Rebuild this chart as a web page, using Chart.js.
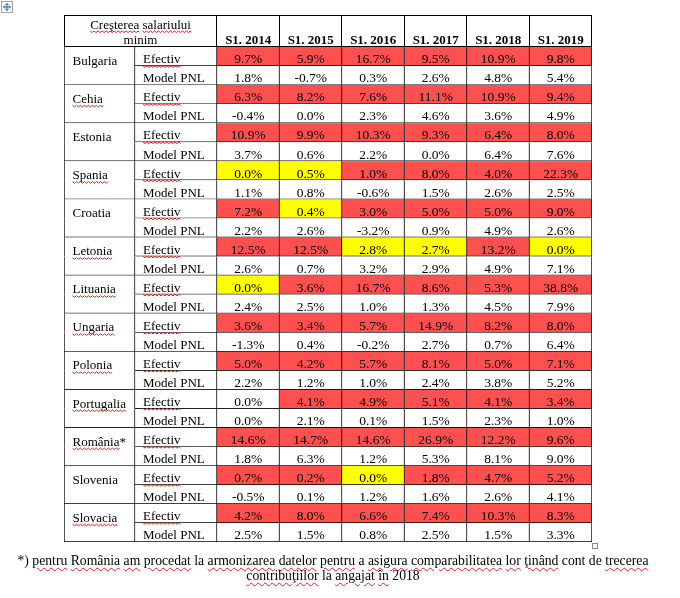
<!DOCTYPE html>
<html><head><meta charset="utf-8">
<script src="https://cdn.jsdelivr.net/npm/chart.js@4"></script>
<style>
html,body{margin:0;padding:0;background:#fff;}
#wrap{position:relative;width:680px;height:598px;overflow:hidden;}
#c{position:absolute;left:0;top:0;}
#note{position:absolute;left:0;width:666px;top:553px;text-align:center;font-family:"Liberation Serif",serif;font-size:13.7px;line-height:15px;white-space:nowrap;color:#000;}
.sp{text-decoration:underline wavy #e02020;text-decoration-thickness:1px;text-underline-offset:2px;}
</style></head><body>
<div id="wrap">
<canvas id="c" width="680" height="598"></canvas>
<div id="note">*) <span class="sp">pentru</span> <span class="sp">România</span> <span class="sp">am</span> <span class="sp">procedat</span> la <span class="sp">armonizarea</span> <span class="sp">datelor</span> <span class="sp">pentru</span> a <span class="sp">asigura</span> <span class="sp">comparabilitatea</span> <span class="sp">lor</span> <span class="sp">ţinând</span> cont de <span class="sp">trecerea</span><br><span class="sp">contribuţiilor</span> la <span class="sp">angajat</span> <span class="sp">în</span> 2018</div>
</div>
<script>
// ---- data ----
const countries = ['Bulgaria','Cehia','Estonia','Spania','Croatia','Letonia','Lituania','Ungaria','Polonia','Portugalia','România*','Slovenia','Slovacia'];
const rowTypes = ['Efectiv','Model PNL'];
const yearLabels = ['S1. 2014','S1. 2015','S1. 2016','S1. 2017','S1. 2018','S1. 2019'];
const headerLabel = ['Creşterea salariului','minim'];

const efectiv2014 = [9.7, 6.3, 10.9, 0.0, 7.2, 12.5, 0.0, 3.6, 5.0, 0.0, 14.6, 0.7, 4.2];
const efectiv2015 = [5.9, 8.2, 9.9, 0.5, 0.4, 12.5, 3.6, 3.4, 4.2, 4.1, 14.7, 0.2, 8.0];
const efectiv2016 = [16.7, 7.6, 10.3, 1.0, 3.0, 2.8, 16.7, 5.7, 5.7, 4.9, 14.6, 0.0, 6.6];
const efectiv2017 = [9.5, 11.1, 9.3, 8.0, 5.0, 2.7, 8.6, 14.9, 8.1, 5.1, 26.9, 1.8, 7.4];
const efectiv2018 = [10.9, 10.9, 6.4, 4.0, 5.0, 13.2, 5.3, 8.2, 5.0, 4.1, 12.2, 4.7, 10.3];
const efectiv2019 = [9.8, 9.4, 8.0, 22.3, 9.0, 0.0, 38.8, 8.0, 7.1, 3.4, 9.6, 5.2, 8.3];

const model2014 = [1.8, -0.4, 3.7, 1.1, 2.2, 2.6, 2.4, -1.3, 2.2, 0.0, 1.8, -0.5, 2.5];
const model2015 = [-0.7, 0.0, 0.6, 0.8, 2.6, 0.7, 2.5, 0.4, 1.2, 2.1, 6.3, 0.1, 1.5];
const model2016 = [0.3, 2.3, 2.2, -0.6, -3.2, 3.2, 1.0, -0.2, 1.0, 0.1, 1.2, 1.2, 0.8];
const model2017 = [2.6, 4.6, 0.0, 1.5, 0.9, 2.9, 1.3, 2.7, 2.4, 1.5, 5.3, 1.6, 2.5];
const model2018 = [4.8, 3.6, 6.4, 2.6, 4.9, 4.9, 4.5, 0.7, 3.8, 2.3, 8.1, 2.6, 1.5];
const model2019 = [5.4, 4.9, 7.6, 2.5, 2.6, 7.1, 7.9, 6.4, 5.2, 1.0, 9.0, 4.1, 3.3];

// equal rounded values where the source still marks the actual as above the model
const tiesAbove = [['Estonia', 'S1. 2018']];
// words flagged by the spell checker in the source document
const spellFlagged = ['Cehia','Spania','Letonia','Lituania','Ungaria','Polonia','Portugalia','România','Slovacia','Efectiv','Creşterea','salariului'];

// ---- derived structures ----
const efectivCols = [efectiv2014, efectiv2015, efectiv2016, efectiv2017, efectiv2018, efectiv2019];
const modelCols = [model2014, model2015, model2016, model2017, model2018, model2019];
const rowLabels = countries.flatMap(c => rowTypes.map(t => c + ' | ' + t));

const RED = '#FF5050', YELLOW = '#FFFF00', WHITE = '#FFFFFF';
const COUNTRY_L = -2.448, TYPE_L = -1.312;

function cellValue(r, c) {
  const k = Math.floor(r / 2);
  return (r % 2 === 0 ? efectivCols[c] : modelCols[c])[k];
}
function cellColor(r, c) {
  if (r % 2 === 1) return WHITE;
  const k = Math.floor(r / 2);
  const e = efectivCols[c][k], m = modelCols[c][k];
  if (e > m) return RED;
  if (e < m) return YELLOW;
  const tie = tiesAbove.some(([cn, yl]) => cn === countries[k] && yl === yearLabels[c]);
  return tie ? RED : WHITE;
}

const datasets = [];
datasets.push({
  label: 'country',
  data: rowLabels.map(() => [COUNTRY_L, TYPE_L]),
  backgroundColor: WHITE,
  borderColor: '#000',
  borderSkipped: false,
  borderWidth: ctx => (ctx.dataIndex % 2 === 0) ? {top:0,left:1,right:1,bottom:0} : {top:0,left:1,right:1,bottom:1}
});
datasets.push({
  label: 'type',
  data: rowLabels.map(() => [TYPE_L, 0]),
  backgroundColor: WHITE,
  borderColor: '#000',
  borderSkipped: false,
  borderWidth: {top:0,left:0,right:1,bottom:1}
});
yearLabels.forEach((yl, c) => {
  datasets.push({
    label: yl,
    colIndex: c,
    data: rowLabels.map(() => [c, c + 1]),
    backgroundColor: ctx => cellColor(ctx.dataIndex, c),
    borderColor: '#000',
    borderSkipped: false,
    borderWidth: {top:0,left:0,right:1,bottom:1}
  });
});

function squiggle(ctx, x, y, w) {
  ctx.save();
  ctx.strokeStyle = '#e02020';
  ctx.lineWidth = 1;
  ctx.beginPath();
  let i = 0, up = false;
  ctx.moveTo(x, y);
  while (i < w) {
    i = Math.min(w, i + 2);
    up = !up;
    ctx.lineTo(x + i, y + (up ? 1.5 : 0));
  }
  ctx.stroke();
  ctx.restore();
}
function textWithFlag(ctx, str, x, y, align) {
  ctx.textAlign = align;
  ctx.fillText(str, x, y);
  const full = ctx.measureText(str).width;
  let start = align === 'center' ? x - full / 2 : x;
  const words = str.split(' ');
  let offset = 0;
  words.forEach(wd => {
    const clean = wd.replace('*', '');
    const wpx = ctx.measureText(clean).width;
    if (spellFlagged.includes(clean)) squiggle(ctx, start + offset, y + 2.5, wpx);
    offset += ctx.measureText(wd + ' ').width;
  });
}

const tablePlugin = {
  id: 'tableText',
  afterDatasetsDraw(chart) {
    const ctx = chart.ctx;
    const xs = chart.scales.x;
    const area = chart.chartArea;
    const headTop = 15;
    ctx.save();
    ctx.fillStyle = '#000';
    const left = Math.round(xs.getPixelForValue(COUNTRY_L));
    const right = Math.round(xs.getPixelForValue(yearLabels.length));
    ctx.fillRect(left, headTop, right - left, 1);
    ctx.fillRect(left, area.top - 1, right - left, 1);
    ctx.fillRect(left, headTop, 1, area.top - headTop);
    for (let c = 0; c <= yearLabels.length; c++) {
      const px = Math.round(xs.getPixelForValue(c)) - 1;
      ctx.fillRect(px, headTop, 1, area.top - headTop);
    }
    ctx.fillStyle = '#000';
    ctx.textBaseline = 'alphabetic';
    ctx.font = '13px "Liberation Serif"';
    const hx = (xs.getPixelForValue(COUNTRY_L) + xs.getPixelForValue(0)) / 2;
    textWithFlag(ctx, headerLabel[0], hx, 28.5, 'center');
    textWithFlag(ctx, headerLabel[1], hx, 43.5, 'center');
    ctx.font = 'bold 13px "Liberation Serif"';
    ctx.textAlign = 'center';
    yearLabels.forEach((yl, c) => {
      ctx.fillText(yl, (xs.getPixelForValue(c) + xs.getPixelForValue(c + 1)) / 2, 43.5);
    });
    chart.data.datasets.forEach((ds, di) => {
      const meta = chart.getDatasetMeta(di);
      meta.data.forEach((el, r) => {
        const p = el.getProps(['x', 'y', 'base', 'height'], true);
        const bottom = p.y + p.height / 2;
        const l = Math.min(p.x, p.base), rr = Math.max(p.x, p.base);
        if (ds.label === 'country') {
          ctx.font = '13px "Liberation Serif"';
          if (r % 2 === 0) textWithFlag(ctx, countries[r / 2], l + 8.5, bottom - 1.2, 'left');
        } else if (ds.label === 'type') {
          ctx.font = '13px "Liberation Serif"';
          textWithFlag(ctx, rowTypes[r % 2], l + 8, bottom - 2.7, 'left');
        } else {
          ctx.font = '13.5px "Liberation Serif"';
          ctx.textAlign = 'center';
          ctx.fillText(cellValue(r, ds.colIndex).toFixed(1) + '%', (l + rr) / 2, bottom - 2.7);
        }
      });
    });
    ctx.strokeStyle = '#9aa4b0';
    ctx.lineWidth = 1;
    ctx.strokeRect(1.5, 1.5, 11, 11);
    ctx.strokeStyle = '#2f5fb0';
    ctx.beginPath();
    ctx.moveTo(7, 3.5); ctx.lineTo(7, 10.5);
    ctx.moveTo(3.5, 7); ctx.lineTo(10.5, 7);
    ctx.moveTo(5.5, 5); ctx.lineTo(7, 3.5); ctx.lineTo(8.5, 5);
    ctx.moveTo(5.5, 9); ctx.lineTo(7, 10.5); ctx.lineTo(8.5, 9);
    ctx.moveTo(5, 5.5); ctx.lineTo(3.5, 7); ctx.lineTo(5, 8.5);
    ctx.moveTo(9, 5.5); ctx.lineTo(10.5, 7); ctx.lineTo(9, 8.5);
    ctx.stroke();
    ctx.strokeStyle = '#8a8a8a';
    ctx.strokeRect(right + 0.5, area.bottom + 1.5, 5, 5);
    ctx.restore();
  }
};

new Chart(document.getElementById('c'), {
  type: 'bar',
  data: { labels: rowLabels, datasets },
  options: {
    responsive: false,
    animation: false,
    indexAxis: 'y',
    layout: { padding: { left: 64, right: 88, top: 47, bottom: 56 } },
    datasets: { bar: { barPercentage: 1, categoryPercentage: 1, grouped: false } },
    plugins: { legend: { display: false }, tooltip: { enabled: false }, title: { display: false } },
    events: [],
    scales: {
      x: { type: 'linear', min: COUNTRY_L, max: yearLabels.length, display: false, grid: { display: false } },
      y: { type: 'category', display: false, grid: { display: false } }
    }
  },
  plugins: [tablePlugin]
});
</script>
</body></html>
